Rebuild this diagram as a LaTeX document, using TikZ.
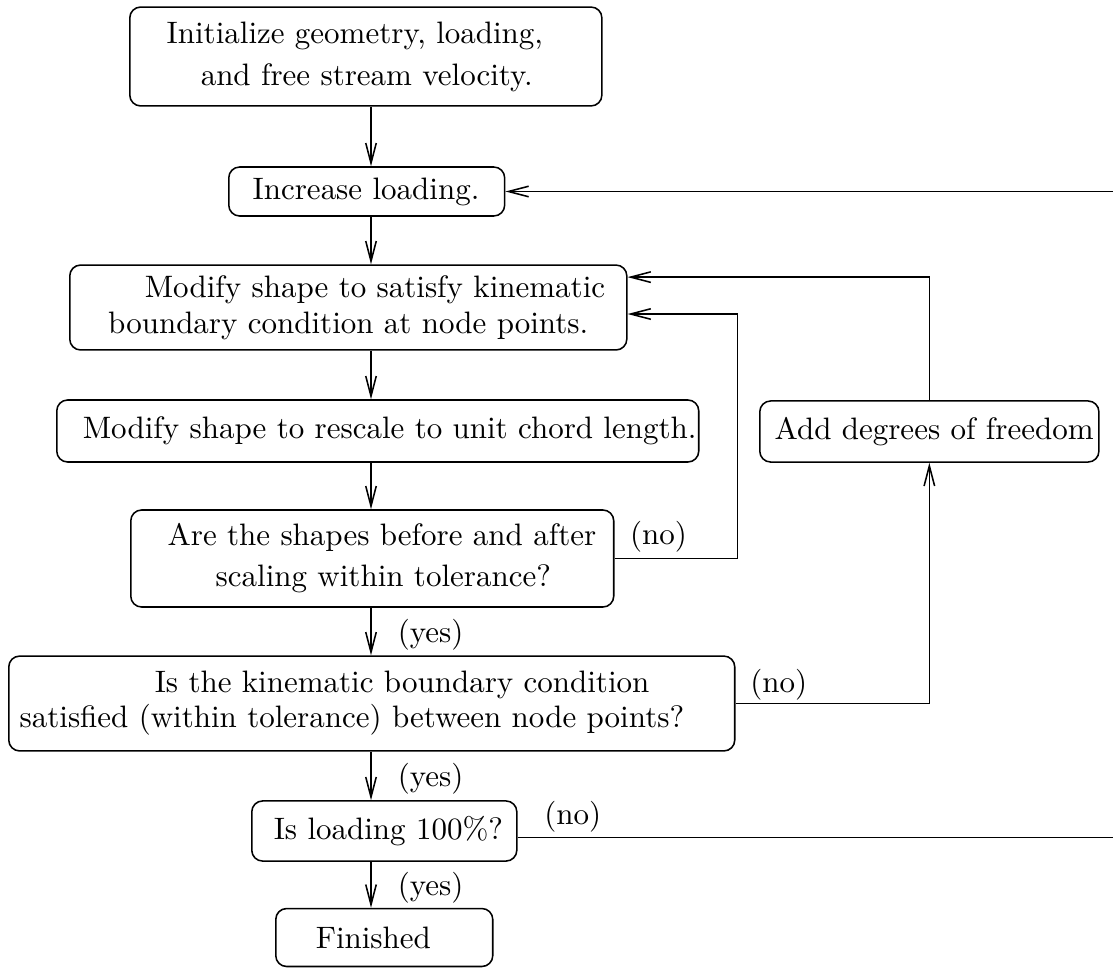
\documentclass[tikz,border=0pt]{standalone}
\usetikzlibrary{arrows.meta}

\begin{document}
\begin{tikzpicture}[x=0.3226pt, y=-0.3226pt, line width=0.5pt,
    stepbox/.style={draw, rounded corners=3.5pt, inner sep=0pt, align=left, anchor=west},
    flow/.style={-{Straight Barb[length=6.5pt,width=3.4pt]}},
    yeslbl/.style={anchor=west, inner sep=0pt, xshift=8.4pt, yshift=-1pt},
    nolbl/.style={anchor=south west, inner sep=0pt}]
\useasboundingbox (0,0) rectangle (1113,968);
    \node[stepbox, text width=152.3pt, minimum height=31.9pt] (init) at (129,56.5)
      {\hspace*{11.9pt}Initialize geometry, loading,\\[1.5pt]\hspace*{22.9pt}and free stream velocity.};
    \node[stepbox, text width=89pt, minimum height=15.8pt] (incr) at (228,191.5)
      {\hspace*{7.7pt}Increase loading.};
    \node[stepbox, text width=179.7pt, minimum height=27.4pt] (kin) at (69,307.5)
      {\hspace*{24.2pt}Modify shape to satisfy kinematic\\[-0.4pt]\hspace*{12.4pt}boundary condition at node points.};
    \node[stepbox, text width=207.1pt, minimum height=20pt] (rescale) at (56,431)
      {\hspace*{8.4pt}\mbox{Modify shape to rescale to unit chord length.}};
    \node[stepbox, text width=109.4pt, minimum height=19.7pt] (dof) at (759,431.5)
      {\hspace*{4.8pt}\mbox{Add degrees of freedom}};
    \node[stepbox, text width=155.8pt, minimum height=31.3pt] (shapes) at (130,558.5)
      {\hspace*{11.9pt}Are the shapes before and after\\[1.2pt]\hspace*{27.4pt}scaling within tolerance?};
    \node[stepbox, text width=234.2pt, minimum height=30.6pt] (cond) at (8,703.5)
      {\hspace*{47.1pt}Is the kinematic boundary condition\\[-0.7pt]\hspace*{3.5pt}satisfied (within tolerance) between node points?};
    \node[stepbox, text width=85.5pt, minimum height=19.4pt] (full) at (251,831)
      {\hspace*{7.1pt}Is loading 100\%?};
    \node[stepbox, text width=70pt, minimum height=18.7pt] (done) at (275,937.5)
      {\hspace*{12.9pt}Finished};
\coordinate (trunk) at (371,0);
\coordinate (rim) at (1113,0);
\coordinate (noexit) at ([yshift=-2.1pt]full.east);
\begin{scope}[flow]
    \draw (init.south -| trunk) -- (incr.north -| trunk);
    \draw (incr.south -| trunk) -- (kin.north -| trunk);
    \draw (kin.south -| trunk) -- (rescale.north -| trunk);
    \draw (rescale.south -| trunk) -- (shapes.north -| trunk);
    \draw (shapes.south -| trunk) -- node[yeslbl] {(yes)} (cond.north -| trunk);
    \draw (cond.south -| trunk) -- node[yeslbl] {(yes)} (full.north -| trunk);
    \draw (full.south -| trunk) -- node[yeslbl] {(yes)} (done.north -| trunk);
    \draw (incr.east -| rim) -- (incr.east);
    \draw (shapes.east) node[nolbl, xshift=4.8pt, yshift=1.8pt] {(no)}
      -- ++(123,0) |- ([yshift=-2.1pt]kin.east);
    \draw (cond.east) node[nolbl, xshift=4.5pt, yshift=0.8pt] {(no)} -| (dof.south);
    \draw (dof.north) |- ([yshift=9.8pt]kin.east);
\end{scope}
\draw (noexit) node[nolbl, xshift=8.4pt, yshift=1.6pt] {(no)} -- (noexit -| rim);
\end{tikzpicture}
\end{document}
